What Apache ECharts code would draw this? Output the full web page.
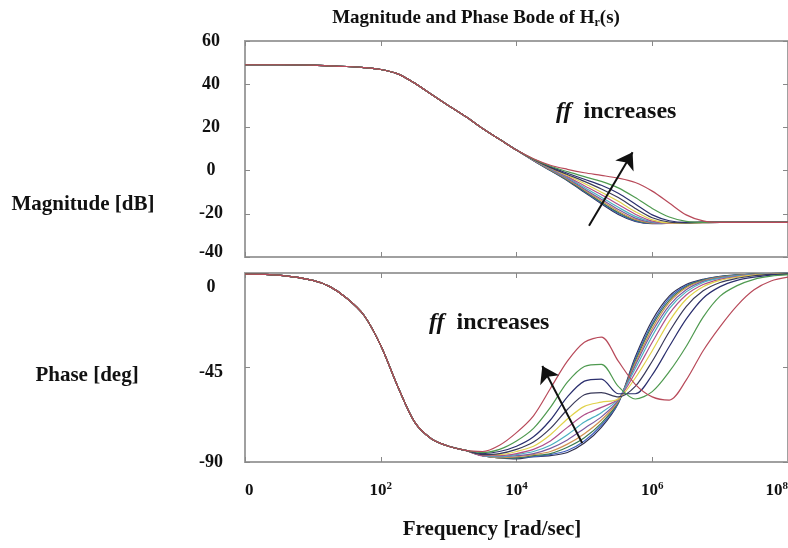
<!DOCTYPE html>
<html><head><meta charset="utf-8">
<script src="https://cdn.jsdelivr.net/npm/echarts@6/dist/echarts.min.js"></script>
<style>html,body{margin:0;padding:0;background:#fff}#c{width:788px;height:548px}</style>
</head><body><div id="c"></div>
<script>
// Frequencies [rad/sec]
const freq = [1, 3.16, 10, 17.8, 31.6, 56.2, 100, 178, 316, 562, 1000, 1780, 3160, 5620, 1e4,
  1.78e4, 3.16e4, 5.62e4, 1e5, 1.78e5, 3.16e5, 5.62e5, 1e6, 1.78e6, 3.16e6, 5.62e6, 1e7, 1.78e7, 3.16e7, 5.62e7, 1e8];
// Magnitude [dB], shared part (freq 1 .. 1e4)
const magCommon = [49, 49, 48.8, 48.5, 48.2, 47.7, 46.8, 44.8, 40.5, 35.2, 30, 25, 19.5, 14.5, 9.5];
// Magnitude tails (freq 1.78e4 .. 1e8), ff largest first
const magTails = [
  [5.5, 2.5, 0.6, -1.0, -2.2, -3.5, -5.5, -9.5, -15, -20.5, -23.3, -24, -24, -24, -24, -24],
  [5.3, 2.0, -0.5, -2.8, -5.0, -8.0, -12.5, -17.5, -21.5, -23.5, -24, -24, -24, -24, -24, -24],
  [5.2, 1.7, -1.2, -4.0, -6.8, -10.5, -15.5, -20.5, -23.2, -24, -24, -24, -24, -24, -24, -24],
  [5.1, 1.4, -1.8, -5.0, -8.5, -12.5, -17.5, -21.8, -23.8, -24.2, -24, -24, -24, -24, -24, -24],
  [5.0, 1.2, -2.3, -6.0, -10, -14.2, -19, -22.8, -24.2, -24.3, -24.1, -24, -24, -24, -24, -24],
  [4.9, 1.0, -2.8, -7.0, -11.2, -15.7, -20.2, -23.4, -24.4, -24.2, -24.1, -24, -24, -24, -24, -24],
  [4.9, 0.8, -3.2, -7.8, -12.3, -17, -21.2, -23.8, -24.5, -24.2, -24.1, -24, -24, -24, -24, -24],
  [4.8, 0.6, -3.6, -8.5, -13.3, -18, -22, -24.1, -24.5, -24.2, -24.1, -24, -24, -24, -24, -24],
  [4.8, 0.4, -4.0, -9.0, -14.0, -18.8, -22.6, -24.3, -24.5, -24.1, -24, -24, -24, -24, -24, -24],
  [4.7, 0.2, -4.3, -9.4, -14.6, -19.4, -23, -24.4, -24.4, -24.1, -24, -24, -24, -24, -24, -24],
  [4.7, 0.1, -4.5, -9.7, -15, -19.9, -23.3, -24.5, -24.4, -24.1, -24, -24, -24, -24, -24, -24],
  [4.6, 0, -4.7, -10, -15.4, -20.3, -23.5, -24.6, -24.4, -24.1, -24, -24, -24, -24, -24, -24]
];
// Phase [deg], shared part (freq 1 .. 1780)
const phaseCommon = [-0.5, -1.0, -3.5, -6.5, -12, -20, -34.5, -54, -71, -79, -82.5, -84.5];
// Phase tails (freq 3160 .. 1e8)
const phaseTails = [
  [-85, -82, -76, -68, -55, -42, -33, -30.5, -42, -53, -59, -60.5, -51, -37, -25.5, -15.5, -8, -3.8, -2],
  [-85.5, -84, -80, -74, -64, -52, -44.5, -43.5, -54, -60, -56.5, -47, -35, -21, -11, -6, -3, -1.5, -0.8],
  [-86, -85, -82.5, -78, -70, -59, -51.5, -50.5, -57.5, -57.5, -48.5, -35, -22, -12, -6.5, -3.5, -2, -1, -0.5],
  [-86.5, -86, -84, -80.5, -74, -65, -58, -57, -59, -54, -42, -28, -16, -8.5, -4.5, -2.5, -1.3, -0.7, -0.4],
  [-86.5, -86.5, -85, -82.5, -77, -69.5, -63.5, -61.5, -60, -50, -37, -23, -12.5, -6.5, -3.5, -2, -1, -0.6, -0.3],
  [-87, -87, -86, -84, -80, -73.5, -67.5, -64, -60, -47.5, -33, -19.5, -10.5, -5.5, -3, -1.7, -0.9, -0.5, -0.3],
  [-87, -87.5, -86.5, -85, -82, -77, -71, -66.5, -60, -45.5, -30, -17, -9, -4.5, -2.5, -1.4, -0.8, -0.4, -0.2],
  [-87, -87.5, -87, -86, -83.5, -79.5, -74, -68.5, -60.5, -44, -28, -15.5, -8, -4, -2.2, -1.2, -0.7, -0.4, -0.2],
  [-87, -88, -87.5, -86.5, -85, -81.5, -76.5, -70, -61, -43, -26.5, -14, -7, -3.7, -2, -1.1, -0.6, -0.3, -0.2],
  [-87, -88, -88, -87, -86, -83, -78.5, -71.5, -61.5, -42, -25, -13, -6.5, -3.4, -1.8, -1, -0.5, -0.3, -0.1],
  [-87, -88, -88, -87.5, -86.5, -84.5, -80, -72.5, -62, -41, -24, -12, -6, -3.2, -1.7, -0.9, -0.5, -0.3, -0.1],
  [-87, -88, -88.5, -87.5, -87, -85.5, -81, -73.5, -62, -40, -22.5, -11, -5.5, -3, -1.6, -0.9, -0.5, -0.3, -0.1]
];
const colors = ['#b84a5a', '#4f9a50', '#2b2f6e', '#3a3a5a', '#e0d24a', '#b0508a', '#4ab0c0', '#7a5aa0', '#d09050', '#3a7a50', '#4060c0', '#303050'];
const magTicks = [60, 40, 20, 0, -20, -40];
const phaseTicks = [0, -45, -90];
// Arrow annotations (data coordinates)
const magArrow = [[117000, -25.5], [513000, 8.5]];
const phaseArrow = [[93000, -81], [24000, -44.3]];

const FF = 'Liberation Serif, Times New Roman, serif';
const chart = echarts.init(document.getElementById('c'));

function xAx(grid, pos, labels) {
  return {
    gridIndex: grid, type: 'log', logBase: 10, min: 1, max: 1e8, interval: 2, position: pos,
    axisLine: { show: false, onZero: false }, splitLine: { show: false },
    axisTick: { show: true, inside: true, length: 5, lineStyle: { color: '#888', width: 1 } },
    axisLabel: labels ? {
      show: true, margin: 19, fontFamily: FF, fontWeight: 'bold', fontSize: 17, color: '#111',
      alignMinLabel: 'left', alignMaxLabel: 'right',
      formatter: v => { const n = Math.round(Math.log10(v)); return n === 0 ? '{b|0}' : '{b|10}{s|' + n + '}'; },
      rich: { b: { fontFamily: FF, fontWeight: 'bold', fontSize: 17, lineHeight: 20, color: '#111' },
              s: { fontFamily: FF, fontWeight: 'bold', fontSize: 11, verticalAlign: 'top', lineHeight: 12, color: '#111' } }
    } : { show: false }
  };
}
function yAx(grid, pos, min, max, interval, labels, fmt) {
  return {
    gridIndex: grid, type: 'value', min: min, max: max, interval: interval, position: pos,
    axisLine: { show: false, onZero: false }, splitLine: { show: false },
    axisTick: { show: true, inside: true, length: 5, lineStyle: { color: '#888', width: 1 } },
    axisLabel: labels ? {
      show: true, align: 'center', margin: 34, fontFamily: FF, fontWeight: 'bold', fontSize: 18, color: '#111',
      formatter: fmt,
      rich: { up: { padding: [0, 0, 10, 0] }, dn: { padding: [28, 0, 0, 0] }, dn2: { padding: [10, 0, 0, 0] } }
    } : { show: false }
  };
}

const series = [];
for (let k = colors.length - 1; k >= 0; k--) {
  const mag = magCommon.concat(magTails[k]);
  series.push({
    type: 'line', xAxisIndex: 0, yAxisIndex: 0, smooth: 0.3, showSymbol: false, symbol: 'none',
    lineStyle: { color: colors[k], width: 1.2 }, z: 3,
    data: freq.map((f, i) => [f, mag[i]])
  });
  const ph = phaseCommon.concat(phaseTails[k]);
  series.push({
    type: 'line', xAxisIndex: 2, yAxisIndex: 2, smooth: 0.3, showSymbol: false, symbol: 'none',
    lineStyle: { color: colors[k], width: 1.2 }, z: 3,
    data: freq.map((f, i) => [f, ph[i]])
  });
}
function arrowLine(pts) {
  return {
    silent: true, symbol: ['none', 'arrow'], symbolSize: 16, animation: false, z: 20,
    label: { show: false }, emphasis: { disabled: true },
    lineStyle: { color: '#111', width: 2, type: 'solid', opacity: 1 },
    itemStyle: { color: '#111' },
    data: [[{ coord: pts[0] }, { coord: pts[1] }]]
  };
}
series[series.length - 2].markLine = arrowLine(magArrow);
series[series.length - 1].markLine = arrowLine(phaseArrow);

const txt = (x, y, text, size, extra) => Object.assign({
  type: 'text', x: x, y: y, z: 10,
  style: Object.assign({ text: text, fontFamily: FF, fontWeight: 'bold', fontSize: size, fill: '#111',
    align: 'center', verticalAlign: 'middle', textAlign: 'center', textVerticalAlign: 'middle' }, extra || {})
});
const ffRich = { i: { fontFamily: FF, fontWeight: 'bold', fontStyle: 'italic', fontSize: 24, fill: '#111' },
                 n: { fontFamily: FF, fontWeight: 'bold', fontSize: 24, fill: '#111' } };

chart.setOption({
  animation: false,
  backgroundColor: '#fff',
  grid: [
    { left: 245, top: 41, width: 543, height: 216, show: true, borderColor: '#a0a0a0', borderWidth: 2, containLabel: false, outerBoundsMode: 'none' },
    { left: 245, top: 273, width: 543, height: 189, show: true, borderColor: '#a0a0a0', borderWidth: 2, containLabel: false, outerBoundsMode: 'none' }
  ],
  xAxis: [xAx(0, 'bottom', false), xAx(0, 'top', false), xAx(1, 'bottom', true), xAx(1, 'top', false)],
  yAxis: [
    yAx(0, 'left', -40, 60, 20, true, v => v === -40 ? '{up|-40}' : String(v)),
    yAx(0, 'right', -40, 60, 20, false),
    yAx(1, 'left', -90, 0, 45, true, v => v === 0 ? '{dn|0}' : (v === -45 ? '{dn2|-45}' : String(v))),
    yAx(1, 'right', -90, 0, 45, false)
  ],
  series: series,
  graphic: [
    txt(476, 18, '{a|Magnitude and Phase Bode of H}{s|r}{a|(s)}', 19, {
      rich: { a: { fontFamily: FF, fontWeight: 'bold', fontSize: 19, lineHeight: 22, fill: '#111' },
              s: { fontFamily: FF, fontWeight: 'bold', fontSize: 12, lineHeight: 12, verticalAlign: 'bottom', fill: '#111' } } }),
    txt(83, 205, 'Magnitude [dB]', 21),
    txt(87, 376, 'Phase [deg]', 21),
    txt(492, 530, 'Frequency [rad/sec]', 21),
    txt(556, 112, '{i|ff}{n|  increases}', 24, { align: 'left', textAlign: 'left', rich: ffRich }),
    txt(429, 323, '{i|ff}{n|  increases}', 24, { align: 'left', textAlign: 'left', rich: ffRich })
  ]
});
</script></body></html>
